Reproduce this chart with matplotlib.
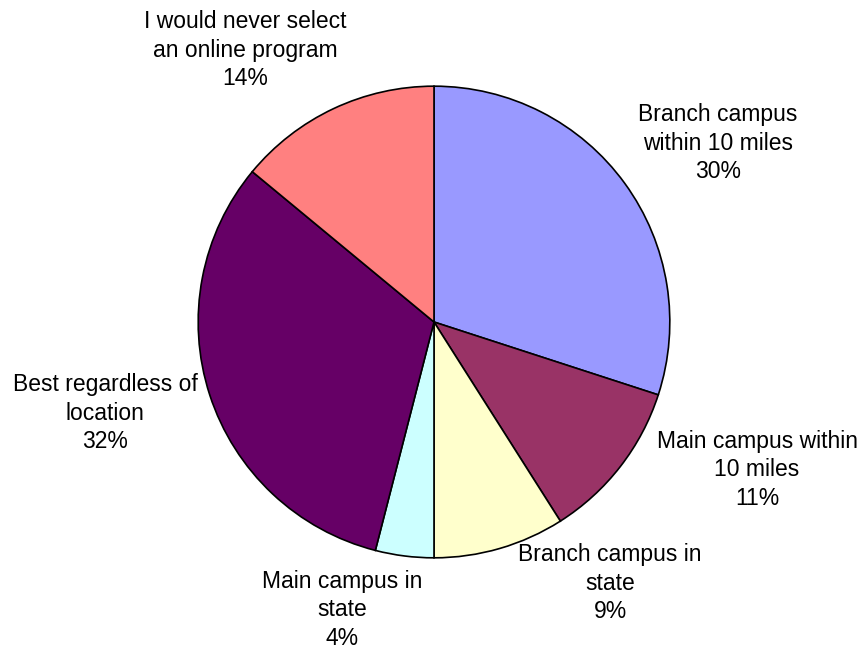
import matplotlib.pyplot as plt

# choix du lieu de formation
categories = ['Branch campus\nwithin 10 miles', 'Main campus within\n10 miles',
              'Branch campus in\nstate', 'Main campus in\nstate',
              'Best regardless of\nlocation', 'I would never select\nan online program']
pourcentages = [30, 11, 9, 4, 32, 14]
couleurs = ['#9999FF', '#993366', '#FFFFCC', '#CCFFFF', '#660066', '#FF8080']

# position des etiquettes (pixels)
pos_etiquettes = [(718, 143), (757, 470), (610, 583), (342, 610), (105, 413), (245, 50)]

plt.rcParams['font.family'] = ['Liberation Sans', 'DejaVu Sans']

fig = plt.figure(figsize=(8.63, 6.51), dpi=100)
ax = fig.add_axes([197/863, 92/651, 474/863, 474/651])

ax.pie(pourcentages, colors=couleurs, startangle=90, counterclock=False,
       radius=1, wedgeprops={'edgecolor': 'black', 'linewidth': 1.2})
ax.set_xlim(-1.005, 1.005)
ax.set_ylim(-1.005, 1.005)
ax.set_aspect('equal')
ax.axis('off')

for cat, p, (px, py) in zip(categories, pourcentages, pos_etiquettes):
    fig.text(px/863, 1 - py/651, cat + '\n' + str(p) + '%', ha='center', va='center',
             fontsize=16.5, linespacing=1.3)

plt.savefig('out.png', dpi=100)
